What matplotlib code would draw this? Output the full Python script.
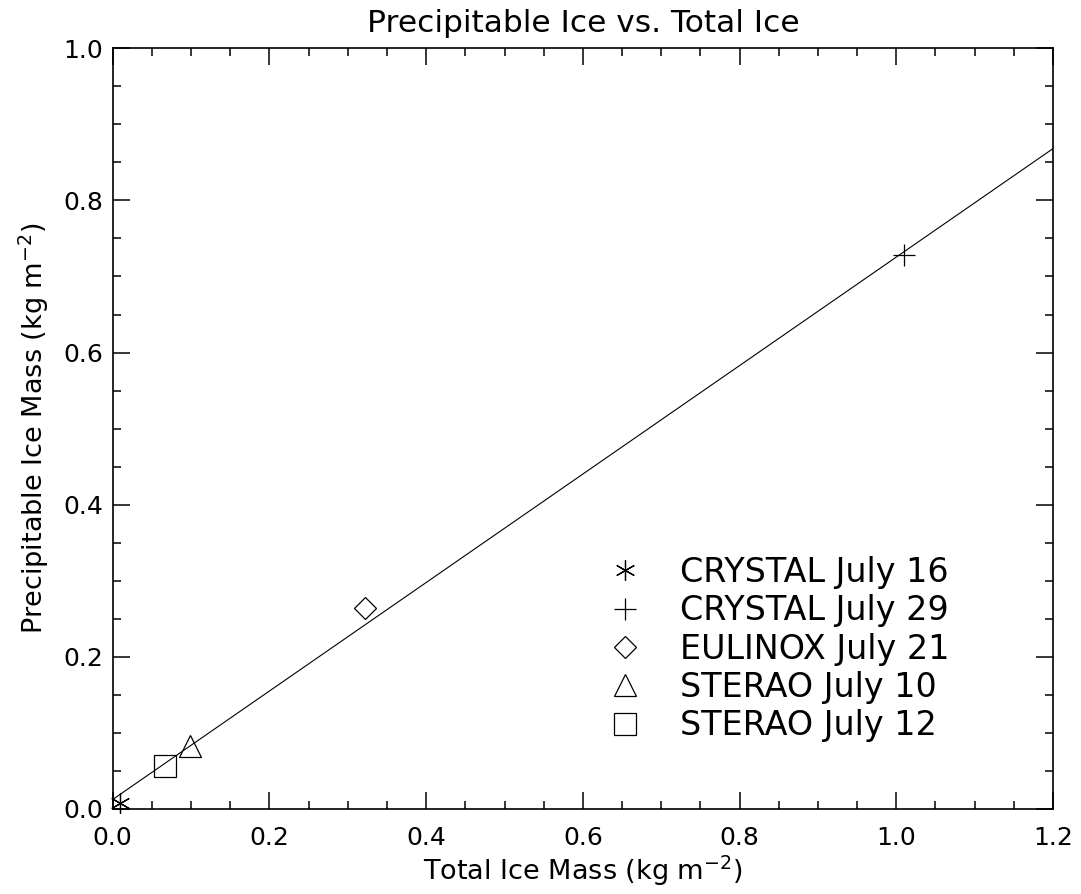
import matplotlib
matplotlib.use('Agg')
import matplotlib.pyplot as plt
from matplotlib.ticker import MultipleLocator
import numpy as np

# data
events = ['CRYSTAL July 16', 'CRYSTAL July 29', 'EULINOX July 21',
          'STERAO July 10', 'STERAO July 12']
total_ice = [0.009, 1.010, 0.322, 0.099, 0.067]
precip_ice = [0.008, 0.728, 0.264, 0.083, 0.057]
symbols = [(6, 2, 0), '+', 'D', '^', 's']
sym_sizes = [14.5, 15.5, 11.5, 16.5, 15.8]

# fitted line (slope, intercept) and its x range
fit_coef = [0.713, 0.0125]
fit_range = [0.0, 1.2]

plt.rcParams['font.family'] = 'DejaVu Sans'
plt.rcParams['mathtext.default'] = 'regular'

fig = plt.figure(figsize=(10.81, 8.94), dpi=100)
ax = fig.add_axes([0.1043, 0.0951, 0.8698, 0.8509])

xf = np.array(fit_range)
ax.plot(xf, np.polyval(fit_coef, xf), color='black', lw=0.8)

for name, x, y, m, s in zip(events, total_ice, precip_ice, symbols, sym_sizes):
    ax.plot([x], [y], linestyle='none', marker=m, markersize=s,
            markerfacecolor='none', markeredgecolor='black',
            markeredgewidth=0.9, color='black', label=name, clip_on=False)

ax.set_xlim(0, 1.2)
ax.set_ylim(0, 1.0)
ax.xaxis.set_major_locator(MultipleLocator(0.2))
ax.xaxis.set_minor_locator(MultipleLocator(0.05))
ax.yaxis.set_major_locator(MultipleLocator(0.2))
ax.yaxis.set_minor_locator(MultipleLocator(0.05))
ax.xaxis.set_major_formatter(plt.FormatStrFormatter('%.1f'))
ax.yaxis.set_major_formatter(plt.FormatStrFormatter('%.1f'))

ax.tick_params(which='both', direction='in', top=True, right=True, width=1.1)
ax.tick_params(which='major', length=12)
ax.tick_params(which='minor', length=6)
ax.tick_params(axis='x', which='major', pad=12, labelsize=18)
ax.tick_params(axis='y', which='major', pad=7, labelsize=18)
for sp in ax.spines.values():
    sp.set_linewidth(1.2)

ax.set_title('Precipitable Ice vs. Total Ice', fontsize=22.5, pad=12)
ax.set_xlabel('Total Ice Mass (kg m$^{-2}$)', fontsize=19.5, labelpad=3)
ax.set_ylabel('Precipitable Ice Mass (kg m$^{-2}$)', fontsize=19.5, labelpad=9)

ax.legend(loc='upper left', bbox_to_anchor=(0.527, 0.3326), frameon=False,
          fontsize=24, handlelength=1.0, handletextpad=1.15,
          labelspacing=0.16, borderpad=0, borderaxespad=0, numpoints=1)

fig.savefig('out.png', dpi=100)
